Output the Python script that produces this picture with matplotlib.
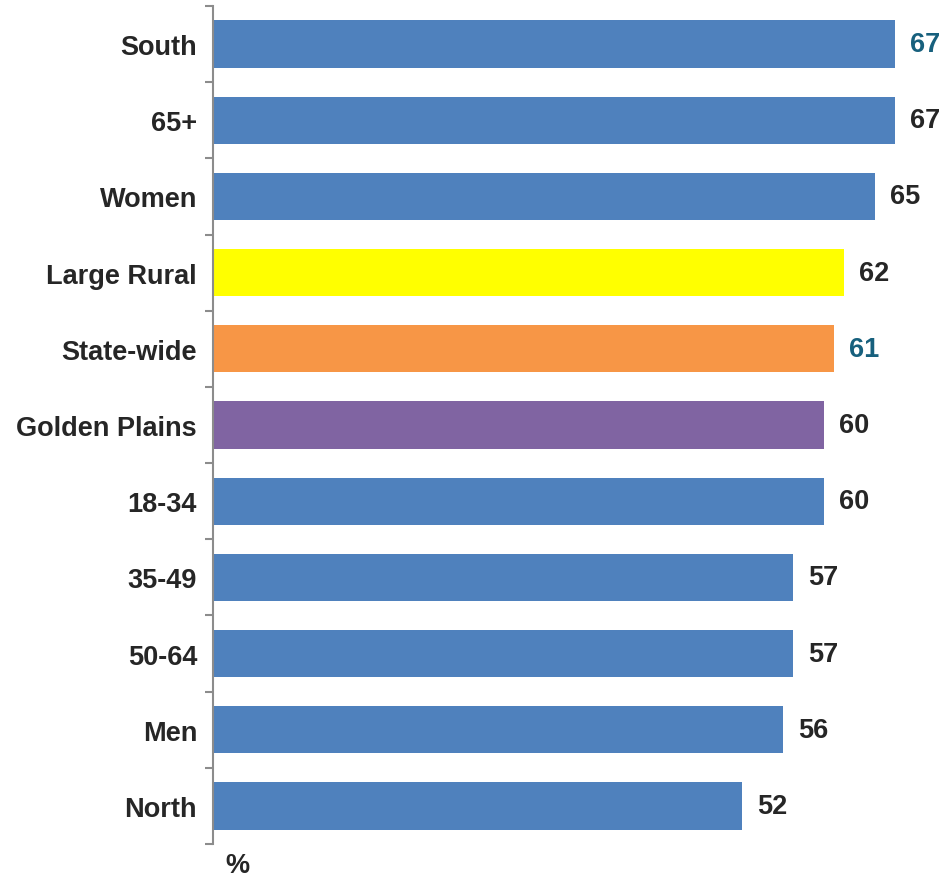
import matplotlib.pyplot as plt
import numpy as np

plt.rcParams['font.family'] = ['Liberation Sans', 'DejaVu Sans']

# categories from top to bottom
labels = ['South', '65+', 'Women', 'Large Rural', 'State-wide', 'Golden Plains',
          '18-34', '35-49', '50-64', 'Men', 'North']
values = [67, 67, 65, 62, 61, 60, 60, 57, 57, 56, 52]
bar_colors = ['#4F81BD', '#4F81BD', '#4F81BD', '#FFFF00', '#F79646', '#8064A2',
              '#4F81BD', '#4F81BD', '#4F81BD', '#4F81BD', '#4F81BD']
value_colors = ['#17607D', '#262626', '#262626', '#262626', '#17607D', '#262626',
                '#262626', '#262626', '#262626', '#262626', '#262626']

fs = 19.5

fig = plt.figure(figsize=(9.43, 8.78), dpi=100)
ax = fig.add_axes([213 / 943, 33 / 878, 1 - 213 / 943, (845 - 7) / 878])

y = np.arange(len(labels))[::-1]
ax.barh(y, values, height=0.62, color=bar_colors)

for yi, v, c in zip(y, values, value_colors):
    ax.text(v + 1.45, yi, str(v), va='center', ha='left', fontsize=fs,
            fontweight='bold', color=c)

ax.set_xlim(0, 71.7)
ax.set_ylim(-0.5, len(labels) - 0.5)
ax.set_xticks([])

ax.set_yticks(y)
ax.set_yticklabels(labels, fontsize=fs, fontweight='bold', color='#262626')
ax.tick_params(axis='y', which='major', length=0, pad=11.5)
ax.set_yticks(np.arange(-0.5, len(labels)), minor=True)
ax.tick_params(axis='y', which='minor', length=6, width=1.5, color='#8C8C8C')

for s in ['top', 'right', 'bottom']:
    ax.spines[s].set_visible(False)
ax.spines['left'].set_color('#8C8C8C')
ax.spines['left'].set_linewidth(1.5)

fig.text(237 / 943, 1 - 866 / 878, '%', ha='center', va='center', fontsize=fs,
         fontweight='bold', color='#262626')

fig.savefig('out.png', dpi=100)
